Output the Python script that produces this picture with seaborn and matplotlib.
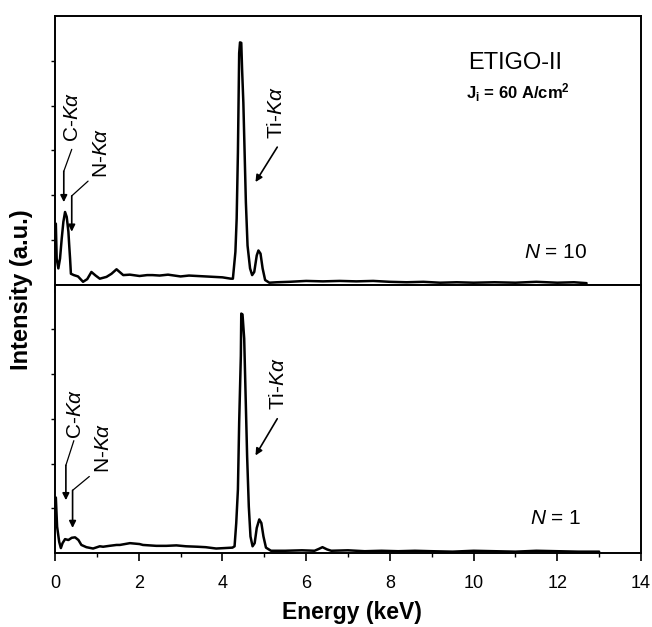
import matplotlib
matplotlib.use("Agg")
import matplotlib.pyplot as plt
import seaborn as sns
import pandas as pd
from matplotlib.ticker import MultipleLocator

# ---------------- data ----------------
energy_n10 = [0.02, 0.04, 0.08, 0.12, 0.16, 0.2, 0.24, 0.28, 0.32, 0.34, 0.36, 0.38, 0.45, 0.55,
              0.67, 0.77, 0.87, 0.97, 1.07, 1.23, 1.35, 1.47, 1.63, 1.79, 2.02, 2.2, 2.33, 2.5,
              2.7, 2.85, 3.0, 3.2, 3.4, 3.6, 3.8, 4.0, 4.2, 4.25, 4.31, 4.34, 4.37, 4.39, 4.40,
              4.42, 4.45, 4.47, 4.50, 4.53, 4.56, 4.60, 4.66, 4.71, 4.76, 4.82, 4.86, 4.91, 4.96,
              5.02, 5.12, 5.3, 5.6, 6.0, 6.4, 6.8, 7.2, 7.6, 8.0, 8.4, 8.8, 9.2, 9.6, 10.0, 10.5,
              11.0, 11.5, 12.0, 12.4, 12.7]
intensity_n10 = [1.36, 0.58, 0.36, 0.58, 1.02, 1.40, 1.62, 1.51, 1.18, 0.87, 0.58, 0.24, 0.21, 0.18,
                 0.06, 0.12, 0.28, 0.20, 0.13, 0.17, 0.24, 0.34, 0.21, 0.22, 0.19, 0.21, 0.21, 0.20,
                 0.22, 0.20, 0.18, 0.20, 0.19, 0.18, 0.17, 0.16, 0.13, 0.13, 0.73, 1.47, 2.95, 4.43, 5.17,
                 5.41, 5.40, 4.80, 4.06, 2.95, 1.84, 0.87, 0.36, 0.21, 0.28, 0.65, 0.76, 0.69, 0.36,
                 0.10, 0.04, 0.05, 0.06, 0.08, 0.07, 0.08, 0.07, 0.08, 0.06, 0.05, 0.06, 0.04, 0.05, 0.04, 0.05,
                 0.04, 0.06, 0.04, 0.05, 0.03]

energy_n1 = [0.02, 0.05, 0.10, 0.14, 0.18, 0.24, 0.32, 0.40, 0.48, 0.56, 0.63, 0.75, 0.91, 1.07,
             1.15, 1.30, 1.47, 1.55, 1.79, 2.02, 2.1, 2.42, 2.66, 2.9, 3.13, 3.4, 3.6, 3.85, 4.05,
             4.24, 4.29, 4.33, 4.37, 4.40, 4.44, 4.45, 4.48, 4.52, 4.55, 4.59, 4.63, 4.67, 4.72,
             4.77, 4.82, 4.88, 4.93, 4.98, 5.04, 5.16, 5.5, 5.9, 6.2, 6.3, 6.39, 6.5, 6.6, 7.0,
             7.4, 7.8, 8.2, 8.6, 9.0, 9.5, 10.0, 10.5, 11.0, 11.5, 12.0, 12.5, 13.0]
intensity_n1 = [1.24, 0.59, 0.25, 0.11, 0.22, 0.31, 0.29, 0.34, 0.35, 0.29, 0.18, 0.13, 0.10, 0.15,
                0.14, 0.16, 0.18, 0.18, 0.22, 0.20, 0.18, 0.16, 0.16, 0.17, 0.15, 0.14, 0.13, 0.10, 0.11,
                0.12, 0.15, 0.67, 1.42, 2.92, 4.41, 5.35, 5.33, 4.79, 3.66, 2.16, 1.04, 0.37, 0.15,
                0.22, 0.56, 0.75, 0.67, 0.37, 0.12, 0.05, 0.05, 0.06, 0.05, 0.09, 0.13, 0.08, 0.05, 0.06,
                0.04, 0.05, 0.04, 0.05, 0.04, 0.03, 0.05, 0.04, 0.03, 0.05, 0.04, 0.03, 0.03]

x_ticks = [0, 2, 4, 6, 8, 10, 12, 14]
panel_labels = [r"$N$ = 10", r"$N$ = 1"]
peak_labels = [r"C-$K\alpha$", r"N-$K\alpha$", r"Ti-$K\alpha$"]

# annotation geometry per panel: (text pos, leader start, bend, tip)
ann_top = [((0.43, 3.75), (0.40, 3.02), (0.21, 2.53), (0.21, 1.84)),
           ((1.12, 2.95), (0.79, 2.31), (0.40, 1.98), (0.40, 1.18)),
           ((5.30, 3.85), (5.31, 3.07), None, (4.79, 2.29))]
ann_bot = [((0.48, 3.10), (0.45, 2.51), (0.26, 1.96), (0.26, 1.18)),
           ((1.15, 2.36), (0.82, 1.71), (0.42, 1.40), (0.42, 0.56)),
           ((5.33, 3.78), (5.31, 3.00), None, (4.79, 2.18))]

assert len(energy_n10) == len(intensity_n10)
assert len(energy_n1) == len(intensity_n1)

# ---------------- style ----------------
sns.set_theme(style="ticks")
plt.rcParams["font.family"] = ["Liberation Sans", "DejaVu Sans"]
plt.rcParams["mathtext.fontset"] = "custom"
plt.rcParams["mathtext.rm"] = "Liberation Sans"
plt.rcParams["mathtext.it"] = "Liberation Sans:italic"
plt.rcParams["mathtext.bf"] = "Liberation Sans:bold"
plt.rcParams["text.color"] = "black"
plt.rcParams["axes.labelcolor"] = "black"
plt.rcParams["xtick.color"] = "black"
plt.rcParams["ytick.color"] = "black"

fig = plt.figure(figsize=(6.52, 6.27), dpi=100)
gs = fig.add_gridspec(2, 1, left=55/652, right=641/652, top=1-16/627, bottom=1-553/627, hspace=0)
ax_top = fig.add_subplot(gs[0])
ax_bot = fig.add_subplot(gs[1], sharex=ax_top)

df10 = pd.DataFrame({"E": energy_n10, "I": intensity_n10})
df1 = pd.DataFrame({"E": energy_n1, "I": intensity_n1})
sns.lineplot(data=df10, x="E", y="I", ax=ax_top, color="black", lw=1.8, sort=False, estimator=None)
sns.lineplot(data=df1, x="E", y="I", ax=ax_bot, color="black", lw=1.8, sort=False, estimator=None)

for ax, lab, anns, lx, ly in [(ax_top, panel_labels[0], ann_top, 11.2, 0.71),
                              (ax_bot, panel_labels[1], ann_bot, 11.36, 0.78)]:
    ax.set_xlim(0, 14)
    ax.set_ylim(0, 6)
    ax.set_xticks(x_ticks)
    ax.xaxis.set_minor_locator(MultipleLocator(1))
    ax.set_yticks([1, 2, 3, 4, 5])
    ax.set_yticklabels([])
    ax.tick_params(axis="x", which="major", direction="out", length=6, width=1.2, labelsize=13, pad=10)
    ax.tick_params(axis="x", which="minor", direction="out", length=3, width=1.0)
    ax.tick_params(axis="y", which="major", direction="out", length=3, width=1.0)
    for s in ax.spines.values():
        s.set_linewidth(1.4)
        s.set_color("black")
    ax.set_xlabel("")
    ax.set_ylabel("")
    ax.text(lx, ly, lab, fontsize=15, va="center", ha="left")
    for (txt, (tpos, start, bend, tip)) in zip(peak_labels, anns):
        ax.text(tpos[0], tpos[1], txt, rotation=90, fontsize=15, ha="center", va="center")
        if bend is not None:
            ax.annotate("", xy=bend, xytext=start,
                        arrowprops=dict(arrowstyle="-", color="black", lw=0.9, shrinkA=0, shrinkB=0))
            ax.annotate("", xy=tip, xytext=bend,
                        arrowprops=dict(arrowstyle="-|>", color="black", lw=1.2, mutation_scale=10,
                                        shrinkA=0, shrinkB=0))
        else:
            ax.annotate("", xy=tip, xytext=start,
                        arrowprops=dict(arrowstyle="-|>", color="black", lw=1.2, mutation_scale=10,
                                        shrinkA=0, shrinkB=0))

plt.setp(ax_top.get_xticklabels(), visible=False)

ax_top.text(9.88, 4.96, "ETIGO-II", fontsize=17, ha="left", va="center")
ax_top.text(9.83, 4.29, r"J$_\mathbf{i}$ = 60 A/cm$^\mathbf{2}$", fontsize=12, fontweight="bold",
            ha="left", va="center")

fig.text(352/652, 1-612/627, "Energy (keV)", fontsize=16.5, fontweight="bold", ha="center", va="center")
fig.text(22/652, 1-290/627, "Intensity (a.u.)", rotation=90, fontsize=17, fontweight="bold",
         ha="center", va="center")

fig.savefig("out.png", dpi=100)
